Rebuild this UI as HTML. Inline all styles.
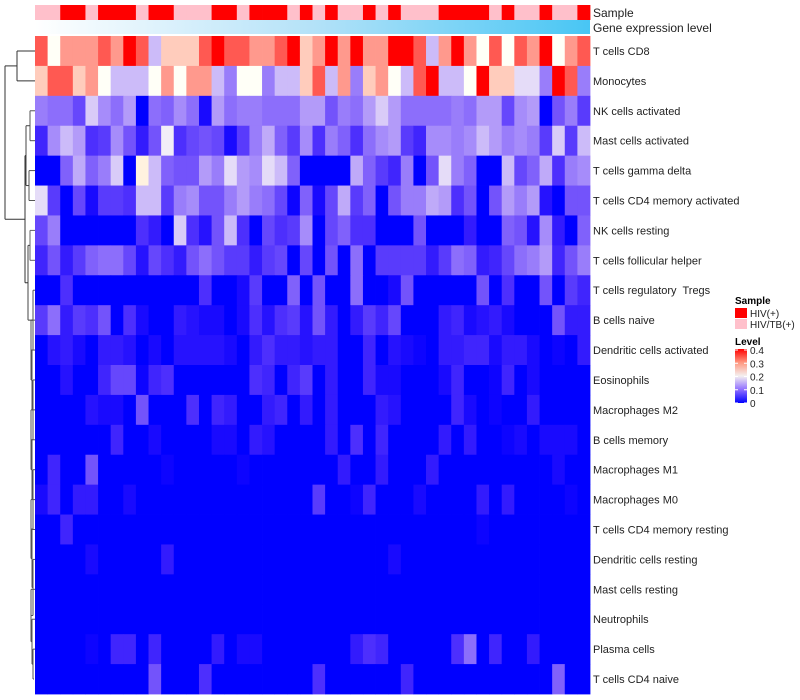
<!DOCTYPE html>
<html><head><meta charset="utf-8">
<style>
html,body{margin:0;padding:0;background:#fff;}
svg{display:block;font-family:"Liberation Sans",Arial,sans-serif;}
#rowlabels text{white-space:pre;}
</style></head>
<body>
<svg id="chart" width="800" height="700" viewBox="0 0 800 700" xmlns="http://www.w3.org/2000/svg">
<defs>
<linearGradient id="geneGrad" x1="0" y1="0" x2="1" y2="0">
<stop offset="0" stop-color="#ffffff"/><stop offset="0.5" stop-color="#b4e2f8"/><stop offset="1" stop-color="#48c6f4"/>
</linearGradient>
<linearGradient id="levelGrad" x1="0" y1="1" x2="0" y2="0">
<stop offset="0" stop-color="#0000ff"/><stop offset="0.25" stop-color="#9070ff"/><stop offset="0.5" stop-color="#f4f0f0"/><stop offset="0.75" stop-color="#ff9880"/><stop offset="1" stop-color="#ff0000"/>
</linearGradient>
</defs>
<g id="dendro" fill="none" stroke="#333" stroke-width="1"></g>
<g id="annot"></g>
<g id="cells"></g>
<g id="rowlabels" font-size="11" fill="#222"></g>
<text x="593" y="17" font-size="12" fill="#222">Sample</text>
<text x="593" y="32" font-size="12" fill="#222">Gene expression level</text>
<g>
<text x="735" y="304" font-size="10" font-weight="bold" fill="#000">Sample</text>
<rect x="735" y="308" width="12" height="10" fill="#ff0000"/>
<text x="750" y="317" font-size="10" fill="#222">HIV(+)</text>
<rect x="735" y="319" width="12" height="10" fill="#ffc0cb"/>
<text x="750" y="328" font-size="10" fill="#222">HIV/TB(+)</text>
<text x="735" y="345" font-size="10" font-weight="bold" fill="#000">Level</text>
<rect x="735" y="349" width="12" height="54" fill="url(#levelGrad)"/>
<g id="levelticks"></g>
</g>
</svg>
<script>
const rowNames = ["T cells CD8","Monocytes","NK cells activated","Mast cells activated","T cells gamma delta","T cells CD4 memory activated","NK cells resting","T cells follicular helper","T cells regulatory  Tregs","B cells naive","Dendritic cells activated","Eosinophils","Macrophages M2","B cells memory","Macrophages M1","Macrophages M0","T cells CD4 memory resting","Dendritic cells resting","Mast cells resting","Neutrophils","Plasma cells","T cells CD4 naive"];
const sampleGroups = "PPRRPRRRPRRPPPRRPRRRPRPRPPRPRPPPRRRRPRPPRPPR";
const levelTicks = [0.4,0.3,0.2,0.1,0];
const levelTickLabels = ["0.4","0.3","0.2","0.1","0"];
// values in hundredths (0-40)
const r01 = [33,20,28,28,28,33,28,40,33,16,24,24,24,33,40,33,33,28,28,33,40,24,28,40,28,40,28,28,40,40,33,16,28,40,28,20,33,20,33,28,40,20,28,33];
const r02 = [24,33,33,24,28,20,16,16,16,20,28,20,28,28,16,12,20,20,12,16,16,24,33,16,28,12,24,28,20,16,33,40,16,16,20,40,24,24,18,18,12,40,33,12];
const r03 = [12,11,11,8,17,13,11,14,0,11,10,13,11,2,14,11,12,12,11,11,11,14,14,9,12,11,14,17,14,11,11,11,11,12,11,14,14,8,13,14,0,9,12,7];
const r04 = [5,13,16,14,6,7,13,9,4,9,19,6,8,9,8,2,7,12,15,10,7,13,6,12,10,6,11,13,14,7,5,13,13,12,13,16,14,12,13,12,7,17,7,16];
const r05 = [0,0,10,15,10,12,17,0,21,16,10,9,9,14,12,18,14,13,18,16,10,0,0,0,0,15,10,7,5,12,0,9,18,12,10,0,0,16,8,10,15,6,12,13];
const r06 = [18,7,0,8,2,7,7,6,16,16,7,12,13,9,9,12,14,12,11,8,1,10,2,8,15,7,10,0,9,12,12,15,14,6,9,0,9,14,12,14,3,0,9,9];
const r07 = [8,12,0,0,0,0,0,0,6,4,0,17,6,3,9,16,6,0,8,6,7,13,0,8,10,6,6,0,0,0,9,0,0,0,4,0,0,10,9,3,13,4,0,10];
const r08 = [5,9,4,7,10,11,11,8,3,8,6,4,9,11,9,7,7,4,7,8,0,8,0,9,0,11,0,7,7,7,7,4,7,11,10,4,5,8,11,12,14,5,9,12];
const r09 = [0,0,6,0,0,0,0,0,0,0,0,0,0,6,0,0,2,7,0,0,10,0,9,0,0,11,0,0,2,9,0,0,0,0,0,9,0,6,0,0,9,0,7,5];
const r10 = [7,11,4,7,6,9,0,6,2,0,0,4,3,2,2,0,2,6,3,6,7,3,9,4,0,4,7,5,8,0,0,0,4,5,2,3,4,2,0,0,0,9,4,4];
const r11 = [0,3,4,2,0,4,4,3,0,2,0,3,3,3,3,2,0,4,6,4,4,3,4,4,0,0,5,0,3,2,1,0,4,4,5,5,2,4,4,2,0,1,0,4];
const r12 = [0,0,3,0,0,5,8,8,1,5,6,0,0,0,0,0,0,6,5,0,5,7,0,4,0,0,5,2,2,0,0,0,2,5,0,0,1,5,0,2,0,0,0,0];
const r13 = [0,0,0,0,3,2,2,0,9,0,0,0,6,0,5,4,0,0,4,5,0,4,0,4,0,0,0,4,3,0,0,0,0,5,2,0,1,0,0,4,0,0,0,0];
const r14 = [0,0,0,0,0,0,5,0,0,2,0,0,0,0,2,2,0,4,3,0,0,0,0,4,0,6,0,5,0,0,0,0,4,0,4,0,0,1,2,0,2,2,2,0];
const r15 = [0,5,0,0,9,0,0,0,0,0,1,0,0,0,0,0,1,0,0,0,0,0,0,0,4,0,0,4,0,0,0,4,0,0,0,0,0,0,0,0,0,2,0,0];
const r16 = [2,5,0,4,4,0,0,2,0,0,0,0,0,0,0,0,0,0,0,0,0,0,7,0,0,1,5,0,0,0,2,0,0,0,0,4,0,4,0,0,0,0,1,0];
const r17 = [0,0,5,0,0,0,0,0,0,0,0,0,0,0,0,0,0,0,0,0,0,0,0,0,0,0,0,0,0,0,0,0,0,0,0,1,0,0,0,0,0,0,0,0];
const r18 = [0,0,0,0,2,0,0,0,0,0,4,0,0,0,0,0,0,0,0,0,0,0,0,0,0,0,0,0,2,0,0,0,0,0,0,0,0,0,0,0,0,0,0,0];
const r19 = [0,0,0,0,0,0,0,0,0,0,0,0,0,0,0,0,0,0,0,0,0,0,0,0,0,0,0,0,0,0,0,0,0,0,0,0,0,0,0,0,0,0,0,0];
const r20 = [0,0,0,0,0,0,0,0,0,0,0,0,0,0,0,0,0,0,0,0,0,0,0,0,0,0,0,0,0,0,0,0,0,0,0,0,0,0,0,0,0,0,0,0];
const r21 = [0,0,0,0,1,0,5,5,0,5,0,0,0,0,4,0,2,2,0,0,0,0,0,0,0,4,6,5,0,0,0,0,0,6,11,0,5,0,0,4,0,0,0,0];
const r22 = [0,0,0,0,0,0,0,0,0,9,0,0,0,6,0,0,0,0,0,0,0,0,6,0,0,0,0,0,0,5,0,0,0,0,0,0,0,0,0,0,0,10,0,0];
const rows = [r01,r02,r03,r04,r05,r06,r07,r08,r09,r10,r11,r12,r13,r14,r15,r16,r17,r18,r19,r20,r21,r22];

const NS = "http://www.w3.org/2000/svg";
const X0 = 35, X1 = 590, Y0 = 36, Y1 = 694;
const nCols = sampleGroups.length;
const cw = (X1 - X0) / nCols;
const rh = (Y1 - Y0) / rowNames.length;
const xPos = i => X0 + i * cw;
const yPos = j => Y0 + j * rh;
function color(v) {
  if (v <= 0.2) {
    const t = Math.max(0, v / 0.2);
    const r = Math.round(255 * t), g = Math.round(255 * Math.pow(t, 1.4)), b = Math.round(255 - 8 * t);
    return `rgb(${r},${g},${b})`;
  }
  const t = Math.min(1, (v - 0.2) / 0.2);
  const g = Math.round(255 * (1 - t)), b = Math.round(255 * (1 - t) * 0.92);
  return `rgb(255,${g},${b})`;
}
function mk(tag, attrs, parent) {
  const e = document.createElementNS(NS, tag);
  for (const k in attrs) e.setAttribute(k, attrs[k]);
  parent.appendChild(e);
  return e;
}
const cells = document.getElementById('cells');
rows.forEach((row, j) => {
  row.forEach((h, i) => {
    const r = mk('rect', {x: xPos(i).toFixed(2), y: yPos(j).toFixed(2), width: (cw + 0.4).toFixed(2), height: (rh + 0.4).toFixed(2), fill: color(h / 100)}, cells);
    
    
  });
});
const labels = document.getElementById('rowlabels');
rowNames.forEach((n, j) => {
  const t = mk('text', {x: 593, y: (yPos(j) + rh / 2 + 4).toFixed(1)}, labels);
  t.setAttribute('xml:space', 'preserve');
  t.textContent = n;
  
  
});
const annot = document.getElementById('annot');
for (let i = 0; i < nCols; i++) {
  const r = mk('rect', {x: xPos(i).toFixed(2), y: 5, width: (cw + 0.4).toFixed(2), height: 15, fill: sampleGroups[i] === 'R' ? '#ff0000' : '#ffc0cb'}, annot);
  
  
}
const g = mk('rect', {x: X0, y: 20, width: X1 - X0, height: 14, fill: 'url(#geneGrad)'}, annot);



const lt = document.getElementById('levelticks');
levelTicks.forEach((v, k) => {
  const y = 403 - (v / 0.4) * 53;
  mk('line', {x1: 735, x2: 738, y1: y, y2: y, stroke: '#fff', 'stroke-width': 1}, lt);
  mk('line', {x1: 744, x2: 747, y1: y, y2: y, stroke: '#fff', 'stroke-width': 1}, lt);
  const t = mk('text', {x: 750, y: y + 4, 'font-size': 10, fill: '#222'}, lt);
  t.textContent = levelTickLabels[k];
  
  
});

// dendrogram (approximate)
const d = document.getElementById('dendro');
const cy = j => yPos(j) + rh / 2;
function seg(x1, y1, x2, y2, c) { mk('line', {x1, y1, x2, y2, stroke: c || '#333'}, d); }
function join(xa, ya, xb, yb, xm, c) { seg(xa, ya, xm, ya, c); seg(xb, yb, xm, yb, c); seg(xm, ya, xm, yb, c); }
join(35, cy(0), 35, cy(1), 17);
join(35, cy(2), 35, cy(3), 30, '#555');
join(35, cy(4), 35, cy(5), 29, '#555');
join(30, (cy(2) + cy(3)) / 2, 29, (cy(4) + cy(5)) / 2, 26, '#444');
join(35, cy(6), 35, cy(7), 30, '#666');
let prevX = 34, prevY = cy(21);
for (let j = 20; j >= 8; j--) {
  const xm = 31 + (j % 3);
  join(35, cy(j), prevX, prevY, xm, '#555');
  prevY = (cy(j) + prevY) / 2; prevX = xm;
}
join(30, (cy(6) + cy(7)) / 2, prevX, prevY, 28, '#444');
const lowY = ((cy(6) + cy(7)) / 2 + prevY) / 2;
join(26, (cy(2) + cy(5)) / 2, 28, lowY, 25);
join(17, (cy(0) + cy(1)) / 2, 25, ((cy(2) + cy(5)) / 2 + lowY) / 2, 5);
</script>
</body></html>
